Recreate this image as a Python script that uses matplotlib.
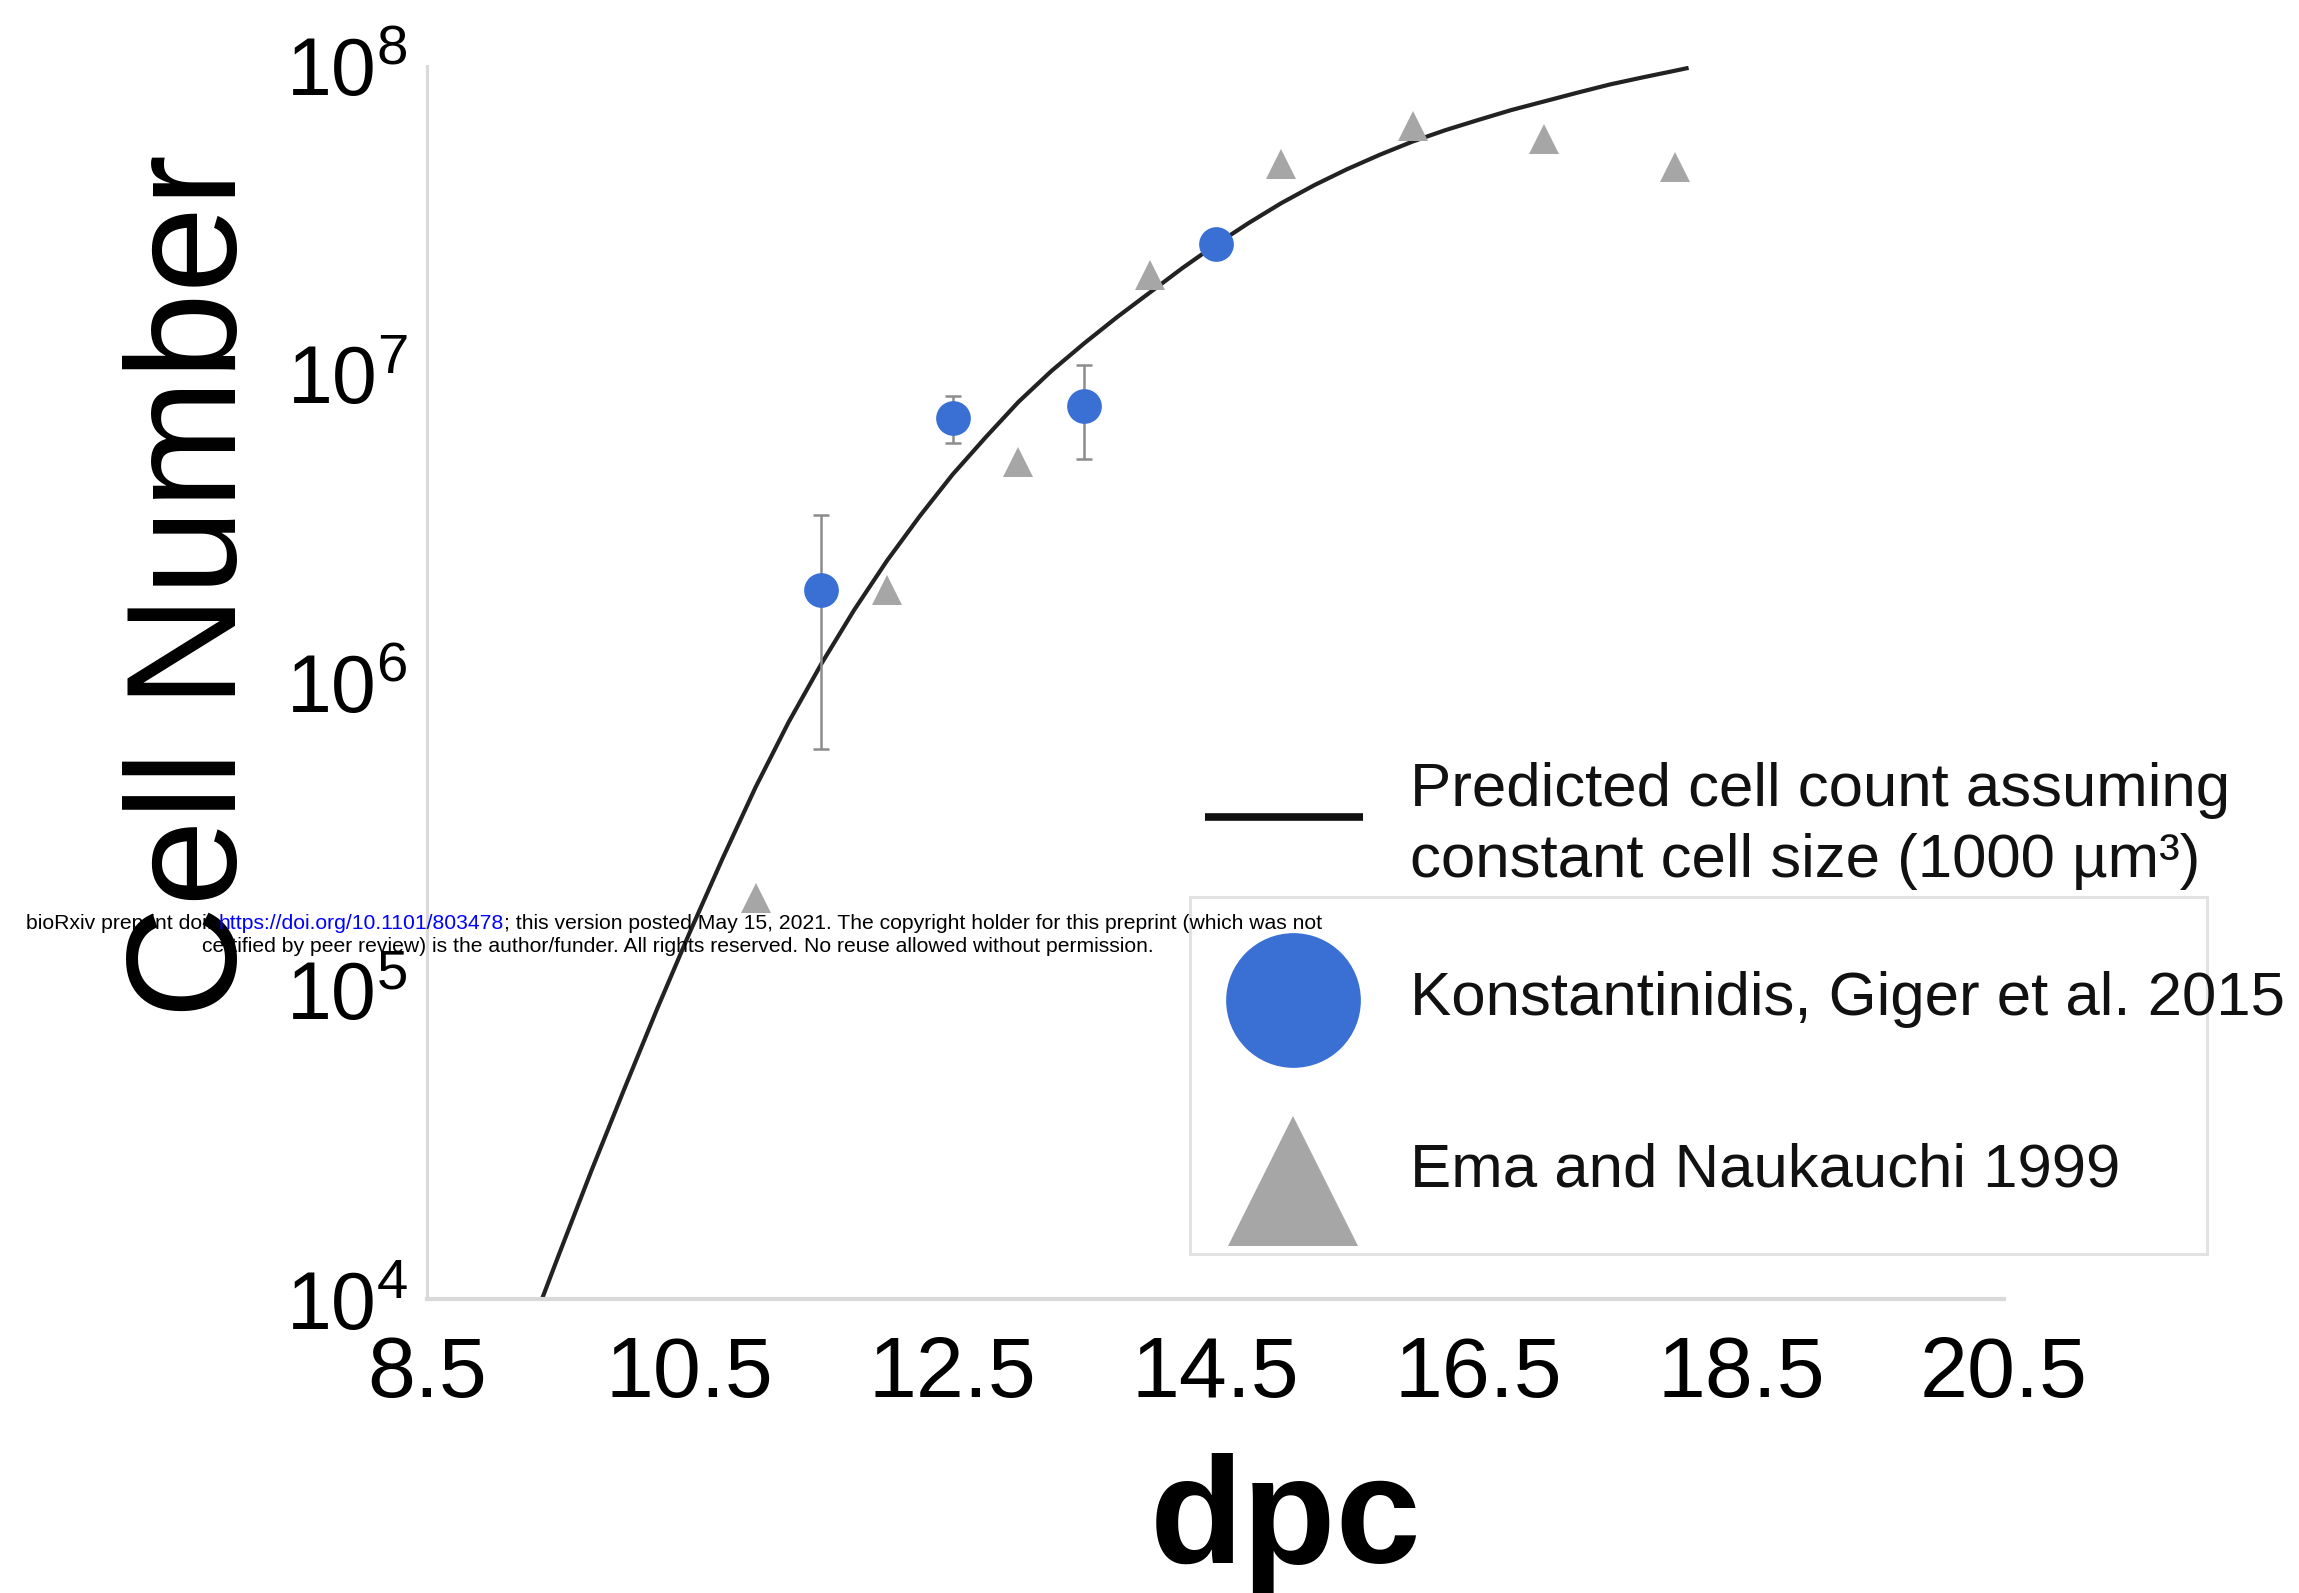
import numpy as np
import matplotlib
matplotlib.use("Agg")
import matplotlib.pyplot as plt
from matplotlib.lines import Line2D
from matplotlib.patches import Rectangle

plt.rcParams['font.family'] = ['Liberation Sans', 'DejaVu Sans']
plt.rcParams['mathtext.fontset'] = 'custom'
plt.rcParams['mathtext.rm'] = 'Liberation Sans'
plt.rcParams['mathtext.it'] = 'Liberation Sans:italic'
plt.rcParams['mathtext.bf'] = 'Liberation Sans:bold'

# ---------------- data ----------------
# Predicted cell count (constant cell size 1000 um^3)
pred_dpc = [9.375, 9.5, 9.75, 10.0, 10.25, 10.5, 10.75, 11.0, 11.25, 11.5, 11.75,
            12.0, 12.25, 12.5, 12.75, 13.0, 13.25, 13.5, 13.75, 14.0, 14.25, 14.5,
            14.75, 15.0, 15.25, 15.5, 15.75, 16.0, 16.25, 16.5, 16.75, 17.0, 17.25,
            17.5, 17.75, 18.0, 18.1]
pred_log10 = [4.00, 4.14, 4.415, 4.68, 4.94, 5.19, 5.43, 5.66, 5.87, 6.06, 6.235,
              6.395, 6.54, 6.675, 6.795, 6.91, 7.01, 7.10, 7.185, 7.265, 7.345, 7.42,
              7.49, 7.555, 7.613, 7.665, 7.712, 7.755, 7.792, 7.825, 7.857, 7.885, 7.913,
              7.94, 7.963, 7.985, 7.994]

# Konstantinidis, Giger et al. 2015
kg_dpc = [11.5, 12.5, 13.5, 14.5]
kg_cells = [2.0e6, 7.2e6, 7.9e6, 2.65e7]
kg_low = [6.1e5, 5.97e6, 5.3e6, 2.65e7]
kg_high = [3.5e6, 8.5e6, 1.07e7, 2.65e7]

# Ema and Naukauchi 1999
ema_dpc = [11, 12, 13, 14, 15, 16, 17, 18]
ema_cells = [2.0e5, 2.0e6, 5.2e6, 2.1e7, 4.8e7, 6.4e7, 5.8e7, 4.7e7]

x_ticks = [8.5, 10.5, 12.5, 14.5, 16.5, 18.5, 20.5]
x_ticklabels = ['8.5', '10.5', '12.5', '14.5', '16.5', '18.5', '20.5']
y_ticks = [1e4, 1e5, 1e6, 1e7, 1e8]
y_ticklabels = [r'$\mathregular{10^{4}}$', r'$\mathregular{10^{5}}$', r'$\mathregular{10^{6}}$',
                r'$\mathregular{10^{7}}$', r'$\mathregular{10^{8}}$']

legend_labels = ['Predicted cell count assuming\nconstant cell size (1000 \u00b5m\u00b3)',
                 'Konstantinidis, Giger et al. 2015',
                 'Ema and Naukauchi 1999']

BLUE = '#3A6FD3'
GREY = '#A6A6A6'
ERR = '#8C8C8C'
AXC = '#D9D9D9'

W, H = 2299, 1593
fig = plt.figure(figsize=(W / 100, H / 100), dpi=100)

def fx(px):
    return px / W

def fy(py):
    return 1 - py / H

ax = fig.add_axes([fx(427), fy(1299), fx(2004) - fx(427), fy(66) - fy(1299)])
ax.set_yscale('log')
ax.set_xlim(8.5, 20.5)
ax.set_ylim(1e4, 1e8)

# curve
ax.plot(pred_dpc, 10 ** np.array(pred_log10), color='#222222', lw=3.0, zorder=2,
        solid_capstyle='butt', solid_joinstyle='round')

# error bars (under markers)
kg = np.array(kg_cells)
yerr = [kg - np.array(kg_low), np.array(kg_high) - kg]
ax.errorbar(kg_dpc, kg_cells, yerr=yerr, fmt='none', ecolor=ERR, elinewidth=1.8,
            capsize=6, capthick=1.8, zorder=3)
ax.plot(ema_dpc, ema_cells, linestyle='none', marker='^', ms=22, color=GREY,
        markeredgewidth=0, zorder=4)
ax.plot(kg_dpc, kg_cells, linestyle='none', marker='o', ms=25, color=BLUE,
        markeredgewidth=0, zorder=5)

# axes styling
for s in ['top', 'right']:
    ax.spines[s].set_visible(False)
ax.spines['left'].set_color(AXC)
ax.spines['left'].set_linewidth(2.2)
ax.spines['bottom'].set_color(AXC)
ax.spines['bottom'].set_linewidth(3)
ax.set_xticks(x_ticks)
ax.set_xticklabels(x_ticklabels, fontsize=62)
ax.set_yticks(y_ticks)
ax.set_yticklabels(y_ticklabels, fontsize=58)
ax.yaxis.set_minor_locator(matplotlib.ticker.NullLocator())
ax.tick_params(axis='x', length=0, pad=26)
ax.tick_params(axis='y', length=0, pad=14)

# axis titles
fig.text(fx(196), fy(586), 'Cell Number', rotation=90, ha='center', va='center',
         fontsize=112)
fig.text(fx(1285), fy(1563), 'dpc', ha='center', va='baseline', fontsize=110,
         fontweight='bold')

# legend (drawn manually)
fig.add_artist(Rectangle((fx(1190), fy(1254)), fx(2207) - fx(1190), fy(897) - fy(1254),
                         transform=fig.transFigure, facecolor='none', edgecolor='#E2E2E2',
                         lw=2.2, zorder=1))
fig.add_artist(Line2D([fx(1205), fx(1363)], [fy(817), fy(817)], transform=fig.transFigure,
                      color='#111111', lw=5.5, solid_capstyle='butt'))
fig.add_artist(Line2D([fx(1293)], [fy(1000)], transform=fig.transFigure, marker='o',
                      ms=97, color=BLUE, markeredgewidth=0, linestyle='none'))
fig.add_artist(Line2D([fx(1293)], [fy(1181)], transform=fig.transFigure, marker='^',
                      ms=94, color=GREY, markeredgewidth=0, linestyle='none'))
fig.text(fx(1410), fy(826), legend_labels[0], ha='left', va='center', fontsize=44.5,
         linespacing=1.3, color='#111111')
fig.text(fx(1410), fy(1000), legend_labels[1], ha='left', va='center', fontsize=44.5,
         color='#111111')
fig.text(fx(1410), fy(1171), legend_labels[2], ha='left', va='center', fontsize=44.5,
         color='#111111')

# bioRxiv watermark
wm_size = 15.2
t1 = fig.text(fx(26), fy(924), 'bioRxiv preprint doi: ', ha='left', va='center',
              fontsize=wm_size, color='black', zorder=10)
t2 = fig.text(0, 0, 'https://doi.org/10.1101/803478', fontsize=wm_size, color='#0000FF',
              zorder=10)
fig.canvas.draw()
r = fig.canvas.get_renderer()
bb1 = t1.get_window_extent(r)
t2.set_position((bb1.x1 / W, fy(924)))
t2.set_va('center')
fig.canvas.draw()
bb2 = t2.get_window_extent(r)
fig.text(bb2.x1 / W, fy(924),
         '; this version posted May 15, 2021. The copyright holder for this preprint (which was not',
         ha='left', va='center', fontsize=wm_size, color='black', zorder=10)
fig.text(fx(678), fy(946),
         'certified by peer review) is the author/funder. All rights reserved. No reuse allowed without permission.',
         ha='center', va='center', fontsize=wm_size, color='black', zorder=10)

fig.savefig('out.png', dpi=100, facecolor='white')
